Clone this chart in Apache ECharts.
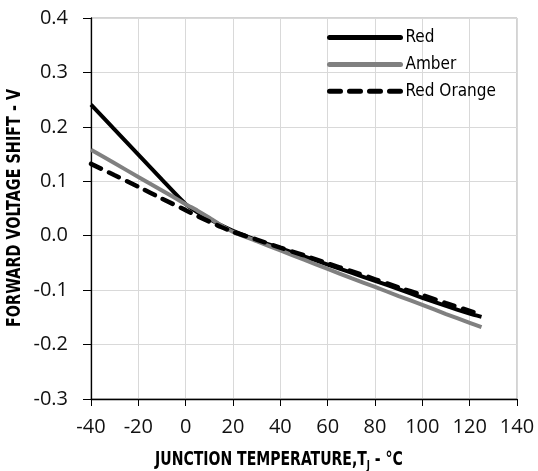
<!DOCTYPE html>
<html>
<head>
<meta charset="utf-8">
<script src="https://cdn.jsdelivr.net/npm/echarts@6/dist/echarts.min.js"></script>
<style>html,body{margin:0;padding:0;background:#fff;}#c{width:538px;height:471px;}</style>
</head>
<body>
<div id="c"></div>
<script>
var temps = [-40,-30,-20,-10,0,5,10,15,20,30,40,50,60,70,80,90,100,110,120,125];
var red = [0.241,0.195,0.149,0.103,0.058,0.043,0.031,0.019,0.009,-0.008,-0.023,-0.038,-0.053,-0.068,-0.083,-0.098,-0.114,-0.129,-0.143,-0.149];
var amber = [0.158,0.133,0.108,0.083,0.058,0.046,0.033,0.019,0.007,-0.010,-0.027,-0.044,-0.061,-0.078,-0.094,-0.111,-0.127,-0.144,-0.160,-0.168];
var redOrange = [0.132,0.111,0.090,0.068,0.047,0.036,0.026,0.016,0.007,-0.007,-0.022,-0.036,-0.051,-0.065,-0.080,-0.095,-0.109,-0.124,-0.138,-0.145];
var seriesNames = ['Red','Amber','Red Orange'];
var xTitle = 'JUNCTION TEMPERATURE,T';
var yTitle = 'FORWARD VOLTAGE SHIFT - V';

function pairs(v){ return temps.map(function(t,i){ return [t, v[i]]; }); }

var chart = echarts.init(document.getElementById('c'));
var tickFont = 'Open Sans';
var boldFont = '"DejaVu Sans Condensed",sans-serif';
chart.setOption({
  animation: false,
  backgroundColor: '#fff',
  grid: { left: 91, top: 18, right: 21, bottom: 72, show: true, borderColor: '#a6a6a6', borderWidth: 1 },
  legend: {
    orient: 'vertical', left: 322, top: 24, itemWidth: 71, itemHeight: 14, itemGap: 9.9,
    itemStyle: { opacity: 0 },
    lineStyle: { width: 5, cap: 'round' },
    textStyle: { fontFamily: '"DejaVu Sans Condensed",sans-serif', fontSize: 17, color: '#000' },
    data: seriesNames
  },
  xAxis: {
    type: 'value', min: -40, max: 140, interval: 20,
    axisLine: { show: true, onZero: false, lineStyle: { color: '#000', width: 1.3 } },
    axisTick: { show: true, inside: false, length: 7, lineStyle: { color: '#000' } },
    axisLabel: { margin: 18, fontFamily: tickFont, fontSize: 20, color: '#111' },
    splitLine: { show: true, lineStyle: { color: '#d9d9d9', width: 1 } }
  },
  yAxis: {
    type: 'value', min: -0.3, max: 0.4, interval: 0.1,
    axisLine: { show: true, onZero: false, lineStyle: { color: '#000', width: 1.3 } },
    axisTick: { show: true, inside: false, length: 8, lineStyle: { color: '#000' } },
    axisLabel: { margin: 23, fontFamily: tickFont, fontSize: 20, color: '#111', formatter: function(v){ return v.toFixed(1); } },
    splitLine: { show: true, lineStyle: { color: '#d9d9d9', width: 1 } }
  },
  graphic: [{
    type: 'text', x: 279, y: 460, scaleX: 0.78,
    style: {
      text: '{a|' + xTitle + '}{s|J}{a| - °C}',
      align: 'center', verticalAlign: 'middle',
      rich: {
        a: { fontFamily: boldFont, fontWeight: 'bold', fontSize: 20, fill: '#000' },
        s: { fontFamily: boldFont, fontWeight: 'bold', fontSize: 12, fill: '#000', padding: [12,0,0,0] }
      }
    }
  }, {
    type: 'text', x: 15, y: 208, rotation: Math.PI / 2, scaleX: 0.8,
    style: {
      text: yTitle, align: 'center', verticalAlign: 'middle',
      fontFamily: boldFont, fontWeight: 'bold', fontSize: 20, fill: '#000'
    }
  }],
  series: [
    { name: seriesNames[0], type: 'line', data: pairs(red), symbol: 'none', smooth: 0.2,
      lineStyle: { color: '#000', width: 4 }, itemStyle: { color: '#000' } },
    { name: seriesNames[1], type: 'line', data: pairs(amber), symbol: 'none', smooth: 0.2,
      lineStyle: { color: '#808080', width: 4 }, itemStyle: { color: '#808080' } },
    { name: seriesNames[2], type: 'line', data: pairs(redOrange), symbol: 'none', smooth: 0.2,
      lineStyle: { color: '#000', width: 4.5, type: [11, 9], cap: 'round' }, itemStyle: { color: '#000' } }
  ]
});
</script>
</body>
</html>
